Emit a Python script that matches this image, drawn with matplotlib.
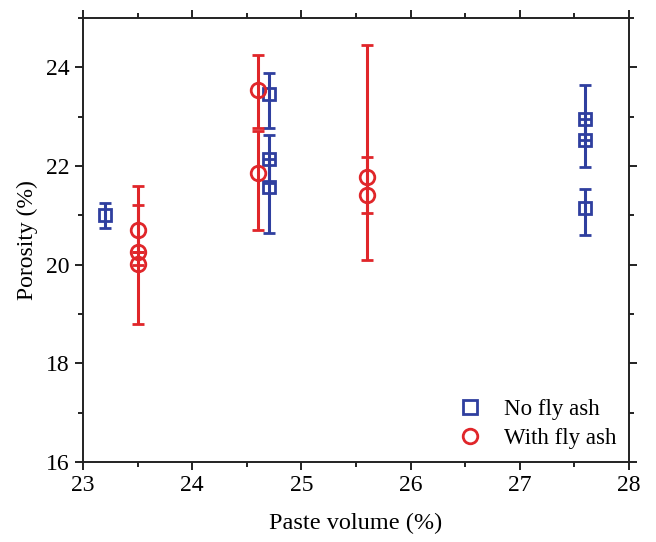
import matplotlib
matplotlib.use('Agg')
import matplotlib.pyplot as plt
from matplotlib.lines import Line2D
import numpy as np

plt.rcParams['font.family'] = ['Liberation Serif', 'DejaVu Serif']

# No fly ash: paste volume, porosity, lower / upper error
plain_x = [23.2, 24.7, 24.7, 24.7, 27.6, 27.6, 27.6]
plain_y = [21.0, 23.46, 22.15, 21.58, 22.96, 22.52, 21.14]
plain_lo = [0.25, 0.68, 0.50, 0.94, 0.44, 0.55, 0.54]
plain_hi = [0.25, 0.42, 0.47, 0.57, 0.68, 0.44, 0.40]

# With fly ash
ash_x = [23.5, 23.5, 23.5, 24.6, 24.6, 25.6, 25.6]
ash_y = [20.71, 20.26, 20.02, 23.55, 21.85, 21.78, 21.41]
ash_lo = [0.45, 0.26, 1.22, 0.77, 1.14, 1.68, 0.37]
ash_hi = [0.89, 0.94, 0.24, 0.71, 0.86, 2.67, 0.78]

blue = '#2f3f9f'
red = '#e0262a'

fig = plt.figure(figsize=(6.56, 5.42), dpi=100)
ax = fig.add_axes([0.1265, 0.1476, 0.8325, 0.8192])

ax.errorbar(plain_x, plain_y, yerr=[plain_lo, plain_hi], fmt='s', color=blue,
            ms=9, mfc='none', mew=2.0, elinewidth=2.2, capsize=4, capthick=2.2)
ax.errorbar(ash_x, ash_y, yerr=[ash_lo, ash_hi], fmt='o', color=red,
            ms=10.5, mfc='none', mew=2.0, elinewidth=2.2, capsize=4, capthick=2.2)

ax.set_xlim(23, 28)
ax.set_ylim(16, 25)
ax.set_xticks(np.arange(23, 28.1, 1))
ax.set_xticks(np.arange(23.5, 28, 1), minor=True)
ax.set_yticks(np.arange(16, 24.1, 2))
ax.set_yticks(np.arange(17, 25.1, 2), minor=True)

for s in ax.spines.values():
    s.set_linewidth(1.4)
    s.set_color('#222222')
ax.tick_params(which='both', direction='out', top=True, right=True,
               width=1.4, color='#222222', labelsize=17)
ax.tick_params(which='major', length=6)
ax.tick_params(which='minor', length=3.5)

ax.set_xlabel('Paste volume (%)', fontsize=17.5, labelpad=12)
ax.set_ylabel('Porosity (%)', fontsize=17, labelpad=6)

handles = [
    Line2D([], [], ls='none', marker='s', ms=9.5, mfc='none', mew=2.0, color=blue),
    Line2D([], [], ls='none', marker='o', ms=10.5, mfc='none', mew=2.0, color=red),
]
ax.legend(handles, ['No fly ash', 'With fly ash'], loc='lower right',
          frameon=False, fontsize=16.5, handletextpad=0.5, labelspacing=0.35,
          borderaxespad=0.15)

fig.savefig('out.png', dpi=100)
